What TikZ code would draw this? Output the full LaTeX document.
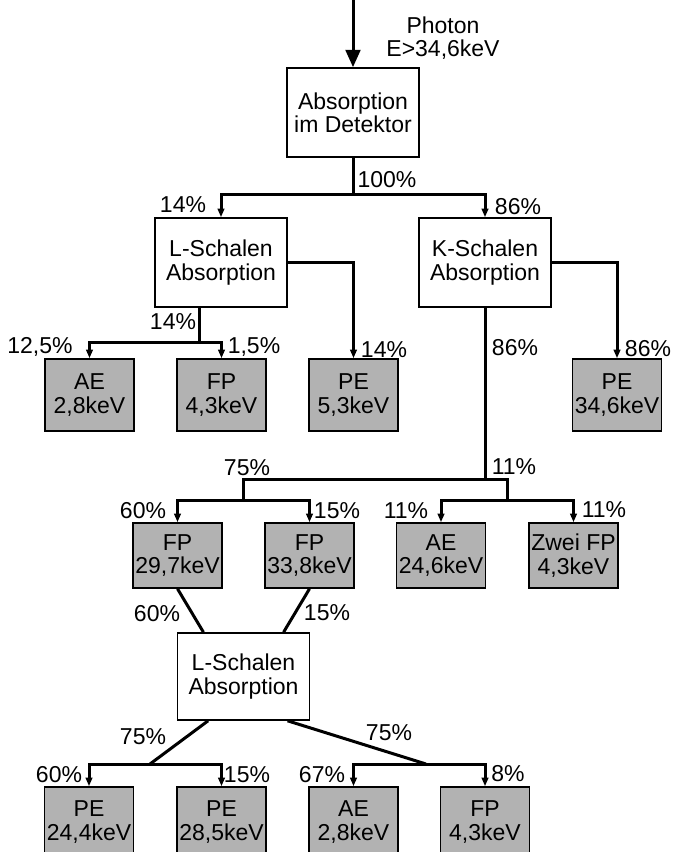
\documentclass[tikz,border=0pt]{standalone}
\usepackage{fontspec}
\setmainfont{Liberation Sans}
\usepackage{tikz}
\usetikzlibrary{arrows.meta, calc}
\definecolor{kastengrau}{RGB}{178,178,178}

\begin{document}
\begin{tikzpicture}[x=0.75pt, y=-0.75pt,
    every node/.style = {font=\fontsize{17.25}{17.5}\selectfont, align=center},
    prozess/.style = {draw, line width=1.2pt, fill=white, inner sep=0pt,
                      minimum width=99pt, minimum height=66.75pt},
    ergebnis/.style = {draw, line width=1.2pt, fill=kastengrau, inner sep=0pt,
                       minimum width=66.5pt},
    linie/.style = {line width=2.25pt},
    pfeil/.style = {line width=2.25pt, -{Triangle[width=5pt, length=6.5pt]}}]
    \useasboundingbox (0,0) rectangle (672,852);

    % Eingang
    \coordinate (quelle) at (353,-2);
    \node[prozess] (det) at (353,112.5) {Absorption\\im Detektor};
    \node (photon) at (443,38) {Photon\\E>34,6keV};

    % Schalen
    \node[prozess] (lsa) at (221,262.5) {L-Schalen\\Absorption};
    \node[prozess] (ksa) at (485,262.5) {K-Schalen\\Absorption};

    % Ergebnisse erste Reihe
    \node[ergebnis, minimum height=54pt] (ae1) at (89.5,395) {AE\\2,8keV};
    \node[ergebnis, minimum height=54pt] (fp1) at (221.5,395) {FP\\4,3keV};
    \node[ergebnis, minimum height=54pt] (pe1) at (353.5,395) {PE\\5,3keV};
    \node[ergebnis, minimum height=54pt] (pe2) at (617,395) {PE\\34,6keV};

    % Ergebnisse K-Schale
    \node[ergebnis, minimum height=48.75pt] (fp2) at (177.5,555.5) {FP\\29,7keV};
    \node[ergebnis, minimum height=48.75pt] (fp3) at (309.5,555.5) {FP\\33,8keV};
    \node[ergebnis, minimum height=48.75pt] (ae2) at (441,555.5) {AE\\24,6keV};
    \node[ergebnis, minimum height=48.75pt] (zfp) at (573.5,555.5) {Zwei FP\\4,3keV};

    % zweite L-Schale
    \node[prozess, minimum height=65.25pt] (lsb) at (243.5,676.5) {L-Schalen\\Absorption};
    \node[ergebnis, minimum height=52.5pt] (pe3) at (89,822) {PE\\24,4keV};
    \node[ergebnis, minimum height=52.5pt] (pe4) at (221.5,822) {PE\\28,5keV};
    \node[ergebnis, minimum height=52.5pt] (ae3) at (353.5,822) {AE\\2,8keV};
    \node[ergebnis, minimum height=52.5pt] (fp4) at (485,822) {FP\\4,3keV};

    % Verzweigungen
    \coordinate (v1) at (353,195);
    \coordinate (v2) at (199,342);
    \coordinate (v3) at (485,479);
    \coordinate (v4) at (243,500);
    \coordinate (v5) at (507,500);
    \coordinate (v6) at (150,764);
    \coordinate (v7) at (426,764);

    % Verbindungen
    \draw[linie, -{Triangle[width=11pt, length=13pt]}] (quelle) -- (det.north);
    \draw[linie] (det.south) -- (v1);
    \draw[pfeil] (v1) -| (lsa.north);
    \draw[pfeil] (v1) -| (ksa.north);
    \draw[linie] (lsa.south -| v2) -- (v2);
    \draw[pfeil] (v2) -| (ae1.north);
    \draw[pfeil] (v2) -| (fp1.north);
    \draw[pfeil] (lsa.east) -| (pe1.north);
    \draw[pfeil] (ksa.east) -| (pe2.north);
    \draw[linie] (ksa.south) -- (v3);
    \draw[linie] (v3) -| (v4);
    \draw[linie] (v3) -| (v5);
    \draw[pfeil] (v4) -| (fp2.north);
    \draw[pfeil] (v4) -| (fp3.north);
    \draw[pfeil] (v5) -| (ae2.north);
    \draw[pfeil] (v5) -| (zfp.north);
    \draw[linie] (fp2.south) -- ($(lsb.north west)!0.2!(lsb.north east)$);
    \draw[linie] (fp3.south) -- ($(lsb.north west)!0.8!(lsb.north east)$);
    \draw[linie] ($(lsb.south west)!0.235!(lsb.south east)$) -- (v6);
    \draw[linie] ($(lsb.south west)!0.83!(lsb.south east)$) -- (v7);
    \draw[pfeil] (v6) -| (pe3.north);
    \draw[pfeil] (v6) -| (pe4.north);
    \draw[pfeil] (v7) -| (ae3.north);
    \draw[pfeil] (v7) -| (fp4.north);

    % Prozentangaben
    \node (w1) at (387,180) {100\%};
    \node (w2) at (183,205) {14\%};
    \node (w3) at (518,207) {86\%};
    \node (w4) at (173,322) {14\%};
    \node (w5) at (40,347) {12,5\%};
    \node (w6) at (254,347) {1,5\%};
    \node (w7) at (384,350) {14\%};
    \node (w8) at (515,348) {86\%};
    \node (w9) at (648,349) {86\%};
    \node (w10) at (247,468) {75\%};
    \node (w11) at (514,467) {11\%};
    \node (w12) at (143,511) {60\%};
    \node (w13) at (337,511) {15\%};
    \node (w14) at (406,511) {11\%};
    \node (w15) at (604,510) {11\%};
    \node (w16) at (157,614) {60\%};
    \node (w17) at (327,613) {15\%};
    \node (w18) at (143,737) {75\%};
    \node (w19) at (389,733) {75\%};
    \node (w20) at (59,775) {60\%};
    \node (w21) at (247,775) {15\%};
    \node (w22) at (322,775) {67\%};
    \node (w23) at (508,774) {8\%};
\end{tikzpicture}
\end{document}
